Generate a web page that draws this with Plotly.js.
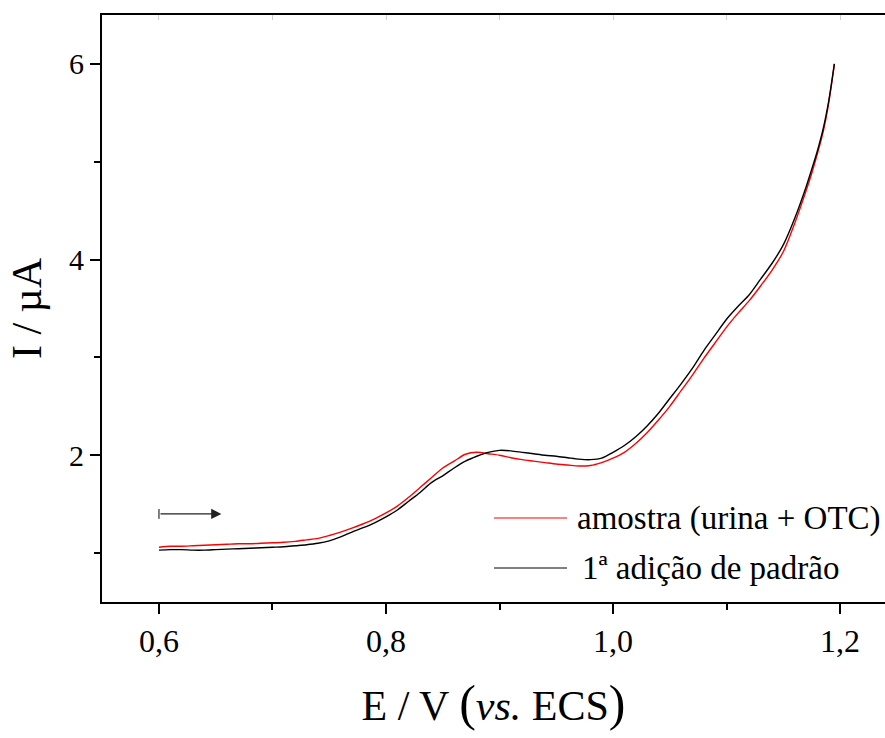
<!DOCTYPE html>
<html>
<head>
<meta charset="utf-8">
<script src="https://cdn.plot.ly/plotly-3.0.1.min.js"></script>
<style>
  html, body { margin: 0; padding: 0; background: #fff; overflow: hidden; }
  #chart { width: 885px; height: 738px; }
</style>
</head>
<body>
<div id="chart"></div>
<script>
// Potential (V vs. ECS)
const potential = [
  0.60, 0.61, 0.62, 0.63, 0.64, 0.65, 0.66, 0.67, 0.68, 0.69,
  0.70, 0.71, 0.72, 0.73, 0.74, 0.75, 0.76, 0.77, 0.78, 0.79,
  0.80, 0.81, 0.82, 0.83, 0.84, 0.85, 0.86, 0.87, 0.88, 0.89,
  0.90, 0.91, 0.92, 0.93, 0.94, 0.95, 0.96, 0.97, 0.98, 0.99,
  1.00, 1.01, 1.02, 1.03, 1.04, 1.05, 1.06, 1.07, 1.08, 1.09,
  1.10, 1.11, 1.12, 1.13, 1.14, 1.15, 1.16, 1.17, 1.175, 1.18,
  1.185, 1.19, 1.195
];

// Current (µA) - sample: urine + OTC
const currentSample = [
  1.06, 1.07, 1.07, 1.075, 1.08, 1.085, 1.09, 1.095, 1.095, 1.10,
  1.105, 1.11, 1.12, 1.135, 1.15, 1.18, 1.215, 1.255, 1.30, 1.35,
  1.41, 1.48, 1.57, 1.67, 1.77, 1.87, 1.94, 2.01, 2.03, 2.015,
  2.00, 1.975, 1.955, 1.94, 1.925, 1.91, 1.90, 1.89, 1.895, 1.925,
  1.97, 2.03, 2.12, 2.23, 2.36, 2.50, 2.66, 2.82, 2.99, 3.15,
  3.31, 3.45, 3.58, 3.73, 3.89, 4.08, 4.37, 4.70, 4.88, 5.08,
  5.30, 5.60, 6.00
];

// Current (µA) - first standard addition
const currentAddition = [
  1.03, 1.035, 1.035, 1.03, 1.03, 1.035, 1.04, 1.045, 1.05, 1.055,
  1.06, 1.065, 1.075, 1.085, 1.10, 1.125, 1.165, 1.215, 1.26, 1.31,
  1.37, 1.44, 1.53, 1.62, 1.72, 1.79, 1.87, 1.94, 1.99, 2.03,
  2.05, 2.045, 2.03, 2.015, 2.00, 1.99, 1.975, 1.96, 1.955, 1.97,
  2.03, 2.10, 2.19, 2.30, 2.43, 2.58, 2.73, 2.89, 3.07, 3.23,
  3.39, 3.52, 3.64, 3.80, 3.96, 4.15, 4.42, 4.74, 4.92, 5.11,
  5.33, 5.62, 6.00
];

const seriesNames = ['amostra (urina + OTC)', '1ª adição de padrão'];
const seriesColors = ['#ff0000', '#000000'];

// Scan direction arrow (start and end, in data units)
const scanArrowFrom = [0.600, 1.40];
const scanArrowTo = [0.655, 1.40];

const FONT = '"Liberation Serif", "DejaVu Serif", serif';

const traces = [
  { x: potential, y: currentSample, name: seriesNames[0], type: 'scatter', mode: 'lines',
    line: { color: seriesColors[0], width: 1.4, shape: 'spline', smoothing: 0.8 }, showlegend: false },
  { x: potential, y: currentAddition, name: seriesNames[1], type: 'scatter', mode: 'lines',
    line: { color: seriesColors[1], width: 1.4, shape: 'spline', smoothing: 0.8 }, showlegend: false },
  // invisible trace carrying the top axis
  { x: [0.6], y: [null], xaxis: 'x2', yaxis: 'y', type: 'scatter', mode: 'lines',
    hoverinfo: 'skip', showlegend: false }
];

// Legend drawn as short line samples with labels, inside the plot
const legendRows = [{ y: 518, textX: 575 }, { y: 568, textX: 580 }];
const shapes = [];
const annotations = [];
const W = 885;
seriesNames.forEach((name, i) => {
  const row = legendRows[i];
  shapes.push({
    type: 'line', xref: 'paper', yref: 'paper',
    x0: (494 - 102) / (W - 102), x1: (567 - 102) / (W - 102),
    y0: (602 - row.y) / 587, y1: (602 - row.y) / 587,
    line: { color: seriesColors[i], width: 1 }
  });
  annotations.push({
    xref: 'paper', yref: 'paper', x: (row.textX - 102) / (W - 102), y: (602 - row.y) / 587,
    xanchor: 'left', yanchor: 'middle', showarrow: false, text: name,
    font: { family: FONT, size: 33, color: '#000' }
  });
});

// scan direction arrow with a small bar at its origin
annotations.push({
  xref: 'x', yref: 'y', axref: 'x', ayref: 'y',
  x: scanArrowTo[0], y: scanArrowTo[1], ax: scanArrowFrom[0], ay: scanArrowFrom[1],
  showarrow: true, arrowhead: 2, arrowsize: 1.7, arrowwidth: 1.2, arrowcolor: '#222', text: ''
});
shapes.push({
  type: 'line', xref: 'x', yref: 'y',
  x0: scanArrowFrom[0], x1: scanArrowFrom[0],
  y0: scanArrowFrom[1] - 0.05, y1: scanArrowFrom[1] + 0.05,
  line: { color: '#000', width: 1 }
});

const layout = {
  width: 885, height: 738,
  margin: { l: 102, r: 0, t: 15, b: 136 },
  paper_bgcolor: '#fff', plot_bgcolor: '#fff',
  font: { family: FONT, color: '#000' },
  showlegend: false,
  xaxis: {
    range: [0.5498, 1.2396], showgrid: false, zeroline: false,
    showline: true, linecolor: '#000', linewidth: 2,
    ticks: 'outside', tickcolor: '#000', ticklen: 10, tickwidth: 2,
    tick0: 0.6, dtick: 0.2, tickformat: '.1f',
    minor: { dtick: 0.1, ticks: 'outside', ticklen: 6, tickwidth: 2, tickcolor: '#000', showgrid: false },
    tickfont: { family: FONT, size: 32 },
    title: { text: 'E / V <span style="font-size:50px">(</span><i>vs.</i> ECS<span style="font-size:50px">)</span>',
             font: { family: FONT, size: 42 }, standoff: 32 }
  },
  xaxis2: {
    overlaying: 'x', side: 'top', matches: 'x', range: [0.5498, 1.2396],
    showgrid: false, zeroline: false, showline: true, linecolor: '#000', linewidth: 2,
    ticks: 'inside', ticklen: 5, tickwidth: 1, tickcolor: '#d0d0d0',
    tick0: 0.6, dtick: 0.1, showticklabels: false
  },
  yaxis: {
    range: [0.5, 6.5], showgrid: false, zeroline: false,
    showline: true, linecolor: '#000', linewidth: 2,
    ticks: 'outside', tickcolor: '#000', ticklen: 10, tickwidth: 2,
    tick0: 0, dtick: 2,
    minor: { dtick: 1, ticks: 'outside', ticklen: 6, tickwidth: 2, tickcolor: '#000', showgrid: false },
    tickfont: { family: FONT, size: 30 },
    title: { text: 'I / µA', font: { family: FONT, size: 42 }, standoff: 14 }
  },
  separators: ', ',
  shapes: shapes,
  annotations: annotations
};

Plotly.newPlot('chart', traces, layout, { displayModeBar: false, staticPlot: true });
</script>
</body>
</html>
